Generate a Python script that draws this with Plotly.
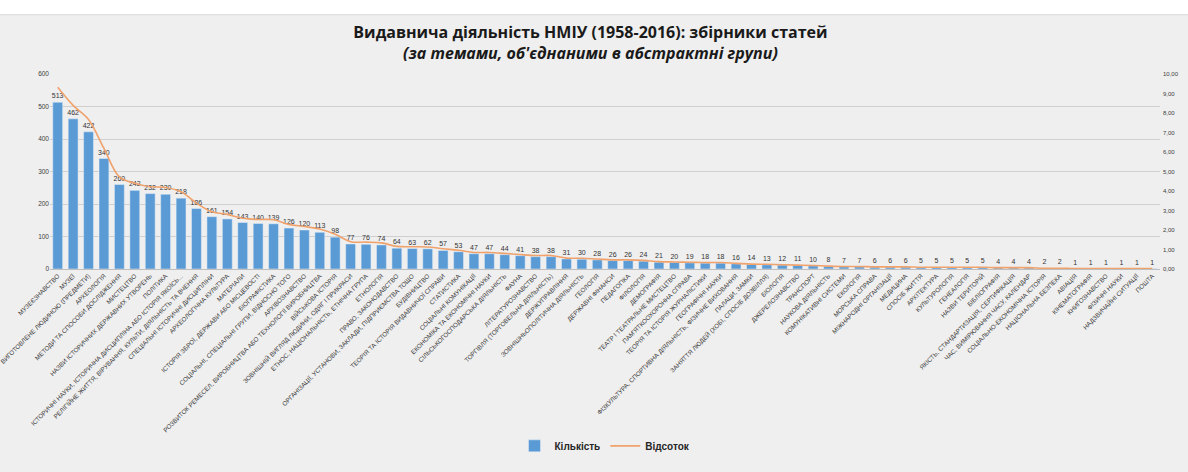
import plotly.graph_objects as go

categories = [
    "МУЗЕЄЗНАВСТВО", "МУЗЕЇ", "ВИГОТОВЛЕНЕ ЛЮДИНОЮ (ПРЕДМЕТИ)", "АРХЕОЛОГІЯ",
    "МЕТОДИ ТА СПОСОБИ ДОСЛІДЖЕННЯ", "МИСТЕЦТВО", "НАЗВИ ІСТОРИЧНИХ ДЕРЖАВНИХ УТВОРЕНЬ",
    "ПОЛІТИКА", "ІСТОРИЧНІ НАУКИ, ІСТОРИЧНА ДИСЦИПЛІНА АБО ІСТОРІЯ ЯКОЇСЬ...",
    "РЕЛІГІЙНЕ ЖИТТЯ, ВІРУВАННЯ, КУЛЬТИ, ДІЯЛЬНІСТЬ ТА ВЧЕННЯ",
    "СПЕЦІАЛЬНІ ІСТОРИЧНІ ДИСЦИПЛІНИ", "АРХЕОЛОГІЧНА КУЛЬТУРА", "МАТЕРІАЛИ",
    "ІСТОРІЯ ЗБРОЇ, ДЕРЖАВИ АБО МІСЦЕВОСТІ", "БІОГРАФІСТИКА",
    "СОЦІАЛЬНІ, СПЕЦІАЛЬНІ ГРУПИ, ВІДНОСНО ТОГО", "АРХІВОЗНАВСТВО",
    "РОЗВИТОК РЕМЕСЕЛ, ВИРОБНИЦТВА АБО ТЕХНОЛОГІЇ ВИРОБНИЦТВА", "ВІЙСЬКОВА ІСТОРІЯ",
    "ЗОВНІШНІЙ ВИГЛЯД ЛЮДИНИ, ОДЯГ І ПРИКРАСИ", "ЕТНОС, НАЦІОНАЛЬНІСТЬ, ЕТНІЧНА ГРУПА",
    "ЕТНОЛОГІЯ", "ПРАВО, ЗАКОНОДАВСТВО",
    "ОРГАНІЗАЦІЇ, УСТАНОВИ, ЗАКЛАДИ, ПІДПРИЄМСТВА ТОЩО", "БУДІВНИЦТВО",
    "ТЕОРІЯ ТА ІСТОРІЯ ВИДАВНИЧОЇ СПРАВИ", "СТАТИСТИКА", "СОЦІАЛЬНІ КОМУНІКАЦІЇ",
    "ЕКОНОМІКА ТА ЕКОНОМІЧНІ НАУКИ", "СІЛЬСЬКОГОСПОДАРСЬКА ДІЯЛЬНІСТЬ", "ФАУНА",
    "ЛІТЕРАТУРОЗНАВСТВО", "ТОРГІВЛЯ (ТОРГОВЕЛЬНА ДІЯЛЬНІСТЬ)", "ДЕРЖУПРАВЛІННЯ",
    "ЗОВНІШНЬОПОЛІТИЧНА ДІЯЛЬНІСТЬ", "ГЕОЛОГІЯ", "ДЕРЖАВНІ ФІНАНСИ", "ПЕДАГОГІКА",
    "ФІЛОЛОГІЯ", "ДЕМОГРАФІЯ", "ТЕАТР І ТЕАТРАЛЬНЕ МИСТЕЦТВО",
    "ПАМ'ЯТКООХОРОННА СПРАВА", "ТЕОРІЯ ТА ІСТОРІЯ ЖУРНАЛІСТИКИ", "ГЕОГРАФІЧНІ НАУКИ",
    "ФІЗКУЛЬТУРА, СПОРТИВНА ДІЯЛЬНІСТЬ, ФІЗИЧНЕ ВИХОВАННЯ", "ПАЛАЦИ, ЗАМКИ",
    "ЗАНЯТТЯ ЛЮДЕЙ (ХОБІ, СПОСІБ ДОЗВІЛЛЯ)", "БІОЛОГІЯ", "ДЖЕРЕЛОЗНАВСТВО",
    "ТРАНСПОРТ", "НАУКОВА ДІЯЛЬНІСТЬ", "КОМУНІКАТИВНІ СИСТЕМИ", "ЕКОЛОГІЯ",
    "МОРСЬКА СПРАВА", "МІЖНАРОДНІ ОРГАНІЗАЦІЇ", "МЕДИЦИНА", "СПОСІБ ЖИТТЯ",
    "АРХІТЕКТУРА", "КУЛЬТУРОЛОГІЯ", "ГЕНЕАЛОГІЯ", "НАЗВИ ТЕРИТОРІЙ", "БІБЛІОГРАФІЯ",
    "ЯКІСТЬ, СТАНДАРТИЗАЦІЯ, СЕРТИФІКАЦІЯ", "ЧАС, ВИМІРЮВАННЯ ЧАСУ, КАЛЕНДАР",
    "СОЦІАЛЬНО-ЕКОНОМІЧНА ІСТОРІЯ", "НАЦІОНАЛЬНА БЕЗПЕКА", "АВІАЦІЯ",
    "КІНЕМАТОГРАФІЯ", "КНИГОЗНАВСТВО", "ФІЗИЧНІ НАУКИ", "НАДЗВИЧАЙНІ СИТУАЦІЇ", "ПОШТА",
]

counts = [
    513, 462, 422, 340, 260, 242, 232, 230, 218, 186, 161, 154, 143, 140, 139, 126,
    120, 113, 98, 77, 76, 74, 64, 63, 62, 57, 53, 47, 47, 44, 41, 38, 38, 31, 30, 28,
    26, 26, 24, 21, 20, 19, 18, 18, 16, 14, 13, 12, 11, 10, 8, 7, 7, 6, 6, 6,
    5, 5, 5, 5, 5, 4, 4, 4, 2, 2, 1, 1, 1, 1, 1, 1,
]

percents = [
    9.32, 8.39, 7.67, 6.18, 4.72, 4.40, 4.22, 4.18, 3.96, 3.38, 2.93, 2.80, 2.60, 2.54,
    2.53, 2.29, 2.18, 2.05, 1.78, 1.40, 1.38, 1.34, 1.16, 1.14, 1.13, 1.04, 0.96, 0.85,
    0.85, 0.80, 0.74, 0.69, 0.69, 0.56, 0.55, 0.51, 0.47, 0.47, 0.44, 0.38, 0.36, 0.35,
    0.33, 0.33, 0.29, 0.25, 0.24, 0.22, 0.20, 0.18, 0.15, 0.13, 0.13, 0.11, 0.11, 0.11,
    0.09, 0.09, 0.09, 0.09, 0.09, 0.07, 0.07, 0.07, 0.04, 0.04, 0.02, 0.02, 0.02, 0.02,
    0.02, 0.02,
]

left_ticks = [0, 100, 200, 300, 400, 500, 600]
right_ticks = [0, 1, 2, 3, 4, 5, 6, 7, 8, 9, 10]

title_main = "Видавнича діяльність НМІУ (1958-2016): збірники статей"
title_sub = "(за темами, об'єднаними в абстрактні групи)"

fig = go.Figure()
fig.add_trace(go.Bar(
    x=categories, y=counts, name="<b>Кількість</b>",
    marker=dict(color="#5b9bd5"),
    text=[str(c) for c in counts], textposition="outside",
    textfont=dict(size=7, color="#333333", family="Liberation Sans"),
    constraintext="none", cliponaxis=False,
))
fig.add_trace(go.Scatter(
    x=categories, y=percents, name="<b>Відсоток</b>", yaxis="y2",
    mode="lines", line=dict(color="#f0a26c", width=1.6, shape="spline"),
))

fig.update_layout(
    width=1188, height=472,
    margin=dict(l=50, r=28, t=74, b=194),
    paper_bgcolor="#efefef", plot_bgcolor="#efefef",
    separators=", ",
    bargap=0.36,
    font=dict(family="Liberation Sans", color="#404040"),
    title=dict(
        text=f"<b>{title_main}</b><br><b><i>{title_sub}</i></b>",
        x=0.497, xanchor="center", y=1 - 38 / 472, yanchor="middle",
        font=dict(family="Open Sans", size=16, color="#1a1a1a"),
    ),
    xaxis=dict(
        tickangle=-45, tickfont=dict(size=6.3, color="#3a3a3a", family="Liberation Sans"),
        showline=True, linecolor="#bfbfbf", ticks="", automargin=False,
    ),
    yaxis=dict(
        range=[0, 600], tickvals=left_ticks, showgrid=True, gridcolor="#cfcfcf",
        tickfont=dict(size=6.5, color="#404040"), zeroline=False, automargin=False,
    ),
    yaxis2=dict(
        overlaying="y", side="right", range=[0, 10], tickvals=right_ticks,
        tickformat=".2f", ticksuffix="%", showgrid=False, zeroline=False,
        tickfont=dict(size=6, color="#404040"), automargin=False, ticklabelstandoff=2,
    ),
    legend=dict(
        orientation="h", x=0.5, xanchor="center", y=(278 - 463) / 204, yanchor="middle",
        font=dict(size=10, color="#262626", family="Liberation Sans"),
        bgcolor="rgba(0,0,0,0)", itemwidth=30, tracegroupgap=0,
    ),
    shapes=[
        dict(type="rect", xref="paper", yref="paper", x0=-0.05, x1=1.03,
             y0=(278 - 12) / 204, y1=(278 + 2) / 204 + 1, fillcolor="white",
             line=dict(width=0), layer="below"),
        dict(type="line", xref="paper", yref="paper", x0=-0.05, x1=1.03,
             y0=(278 - 12) / 204, y1=(278 - 12) / 204,
             line=dict(color="#d8d8d8", width=1), layer="below"),
    ],
)

fig.write_html("out.html")
